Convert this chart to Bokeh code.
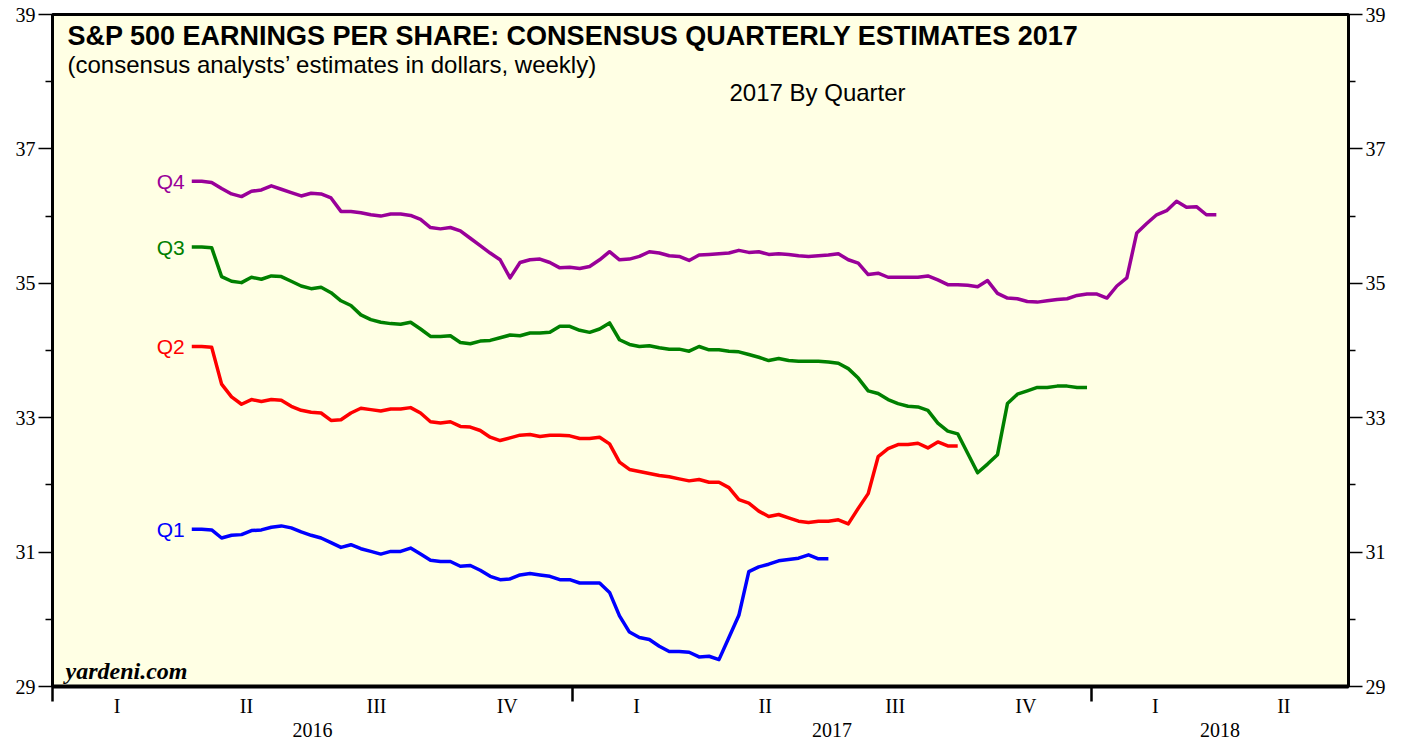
import pandas as pd
from bokeh.plotting import figure
from bokeh.models import Range1d, LinearAxis, FixedTicker, Label
from bokeh.core.properties import value
from bokeh.embed import file_html
from bokeh.resources import INLINE

# ---------------- data (weekly consensus estimates, $) ----------------
start_date = "2016-04-08"

q1_values = [31.34, 31.34, 31.33, 31.21, 31.25, 31.26, 31.32, 31.33, 31.37, 31.39,
             31.36, 31.30, 31.25, 31.21, 31.14, 31.07, 31.11, 31.05, 31.01, 30.97,
             31.01, 31.01, 31.06, 30.97, 30.88, 30.86, 30.86, 30.79, 30.80, 30.73,
             30.64, 30.59, 30.60, 30.66, 30.68, 30.66, 30.64, 30.59, 30.59, 30.54,
             30.54, 30.54, 30.40, 30.05, 29.81, 29.73, 29.70, 29.60, 29.52, 29.52,
             29.51, 29.44, 29.45, 29.40, 29.73, 30.06, 30.71, 30.78, 30.82, 30.87,
             30.89, 30.91, 30.96, 30.90, 30.90]

q2_values = [34.06, 34.06, 34.05, 33.50, 33.31, 33.20, 33.27, 33.24, 33.27, 33.26,
             33.17, 33.11, 33.08, 33.07, 32.96, 32.97, 33.07, 33.14, 33.12, 33.10,
             33.13, 33.13, 33.15, 33.07, 32.94, 32.92, 32.94, 32.87, 32.86, 32.81,
             32.71, 32.66, 32.70, 32.74, 32.75, 32.72, 32.74, 32.74, 32.73, 32.69,
             32.69, 32.71, 32.61, 32.34, 32.23, 32.20, 32.17, 32.14, 32.12, 32.09,
             32.06, 32.08, 32.04, 32.04, 31.96, 31.78, 31.73, 31.61, 31.53, 31.56,
             31.51, 31.46, 31.44, 31.46, 31.46, 31.48, 31.42, 31.65, 31.87, 32.42,
             32.54, 32.60, 32.60, 32.62, 32.55, 32.64, 32.58, 32.58]

q3_values = [35.54, 35.54, 35.53, 35.10, 35.03, 35.01, 35.09, 35.06, 35.11, 35.10,
             35.03, 34.96, 34.92, 34.94, 34.86, 34.74, 34.67, 34.53, 34.46, 34.42,
             34.40, 34.39, 34.42, 34.32, 34.21, 34.21, 34.22, 34.12, 34.10, 34.14,
             34.15, 34.19, 34.23, 34.22, 34.26, 34.26, 34.27, 34.36, 34.36, 34.30,
             34.27, 34.32, 34.41, 34.16, 34.09, 34.06, 34.07, 34.04, 34.02, 34.02,
             33.99, 34.06, 34.01, 34.01, 33.99, 33.98, 33.94, 33.90, 33.85, 33.88,
             33.85, 33.84, 33.84, 33.84, 33.83, 33.81, 33.73, 33.59, 33.40, 33.36,
             33.27, 33.21, 33.17, 33.16, 33.11, 32.92, 32.80, 32.76, 32.47, 32.18,
             32.31, 32.45, 33.21, 33.35, 33.40, 33.45, 33.45, 33.47, 33.47, 33.45,
             33.45]

q4_values = [36.52, 36.52, 36.50, 36.41, 36.33, 36.29, 36.37, 36.39, 36.45, 36.40,
             36.35, 36.30, 36.34, 36.33, 36.27, 36.07, 36.07, 36.05, 36.02, 36.00,
             36.03, 36.03, 36.01, 35.95, 35.83, 35.81, 35.83, 35.78, 35.67, 35.56,
             35.45, 35.35, 35.08, 35.31, 35.35, 35.36, 35.31, 35.23, 35.24, 35.22,
             35.25, 35.35, 35.47, 35.35, 35.36, 35.40, 35.47, 35.45, 35.41, 35.40,
             35.34, 35.42, 35.43, 35.44, 35.45, 35.49, 35.46, 35.47, 35.43, 35.44,
             35.43, 35.41, 35.40, 35.41, 35.42, 35.44, 35.35, 35.30, 35.13, 35.15,
             35.09, 35.09, 35.09, 35.09, 35.11, 35.05, 34.98, 34.98, 34.97, 34.95,
             35.04, 34.85, 34.78, 34.77, 34.73, 34.72, 34.74, 34.76, 34.77, 34.82,
             34.84, 34.84, 34.78, 34.96, 35.08, 35.75, 35.89, 36.02, 36.08, 36.22,
             36.13, 36.14, 36.02, 36.02]

series_names = ["Q1", "Q2", "Q3", "Q4"]
series_colors = ["#0000ff", "#ff0000", "#008000", "#990099"]

y_major_ticks = [29, 31, 33, 35, 37, 39]
y_minor_ticks = [30, 32, 34, 36, 38]
quarter_names = ["I", "II", "III", "IV"]
year_names = ["2016", "2017", "2018"]

title_text = "S&P 500 EARNINGS PER SHARE: CONSENSUS QUARTERLY ESTIMATES 2017"
subtitle_text = "(consensus analysts\u2019 estimates in dollars, weekly)"
legend_title = "2017 By Quarter"
source_text = "yardeni.com"

# ---------------- helpers ----------------
def ms(d):
    return pd.Timestamp(d).value / 1e6

x0, x1 = ms("2016-01-01"), ms("2018-07-01")
Y0, Y1 = 29, 39
FL, FR, FT, FB = 52, 1348, 14, 686   # frame edges in page pixels

def X(px):
    return x0 + (px - FL) / (FR - FL) * (x1 - x0)

def Y(py):
    return Y1 - (py - FT) / (FB - FT) * (Y1 - Y0)

# ---------------- figure ----------------
p = figure(width=1400, height=742, x_range=Range1d(x0, x1), y_range=Range1d(Y0, Y1),
           x_axis_type=None, y_axis_type=None, output_backend="svg",
           toolbar_location=None, min_border_left=52, min_border_right=52,
           min_border_top=14, min_border_bottom=56)
p.background_fill_color = "#ffffe4"
p.border_fill_color = "white"
p.outline_line_color = "black"
p.outline_line_width = 3

serif = "Liberation Serif"
sans = "Liberation Sans"

for side in ["left", "right"]:
    ya = LinearAxis(ticker=FixedTicker(ticks=y_major_ticks, minor_ticks=y_minor_ticks))
    ya.axis_line_width = 3
    ya.axis_line_color = "black"
    ya.major_tick_out = 14
    ya.major_tick_in = 0
    ya.minor_tick_out = 7
    ya.minor_tick_in = 0
    ya.major_tick_line_width = 1.5
    ya.minor_tick_line_width = 1.5
    ya.major_tick_line_color = "black"
    ya.minor_tick_line_color = "black"
    ya.major_label_standoff = 3
    ya.major_label_text_font = serif
    ya.major_label_text_font_size = "20px"
    ya.major_label_text_color = "black"
    p.add_layout(ya, side)

# quarter labels axis, with year-boundary ticks as minor ticks
q_ticks, q_labels = [], {}
for yr in [2016, 2017, 2018]:
    for qi in range(4):
        s = pd.Timestamp(year=yr, month=3 * qi + 1, day=1)
        e = s + pd.DateOffset(months=3)
        if ms(e) > x1:
            break
        mid = (ms(s) + ms(e)) / 2
        q_ticks.append(mid)
        q_labels[mid] = quarter_names[qi]
year_bounds = [ms("2016-01-01"), ms("2017-01-01"), ms("2018-01-01")]

xa = LinearAxis(ticker=FixedTicker(ticks=q_ticks, minor_ticks=year_bounds),
                major_label_overrides=q_labels)
xa.axis_line_width = 4
xa.axis_line_color = "black"
xa.major_tick_out = 0
xa.major_tick_in = 0
xa.major_tick_line_color = None
xa.minor_tick_out = 15
xa.minor_tick_in = 0
xa.minor_tick_line_width = 2.5
xa.minor_tick_line_color = "black"
xa.major_label_standoff = -7
xa.major_label_text_font = serif
xa.major_label_text_font_size = "20px"
xa.major_label_text_color = "black"
p.add_layout(xa, "below")

# year labels axis (centred on the visible part of each year)
year_pos = [(ms("2016-01-01") + ms("2017-01-01")) / 2,
            (ms("2017-01-01") + ms("2018-01-01")) / 2,
            (ms("2018-01-01") + x1) / 2]
ya2 = LinearAxis(ticker=FixedTicker(ticks=year_pos, minor_ticks=[]),
                 major_label_overrides=dict(zip(year_pos, year_names)))
ya2.axis_line_color = None
ya2.major_tick_out = 0
ya2.major_tick_in = 0
ya2.major_tick_line_color = None
ya2.minor_tick_line_color = None
ya2.major_label_standoff = 3
ya2.major_label_text_font = serif
ya2.major_label_text_font_size = "20px"
ya2.major_label_text_color = "black"
p.add_layout(ya2, "below")

# ---------------- series ----------------
all_values = [q1_values, q2_values, q3_values, q4_values]
first_x, first_y = [], []
for name, vals, col in zip(series_names, all_values, series_colors):
    dates = pd.date_range(start_date, periods=len(vals), freq="7D")
    xs = [d.value / 1e6 for d in dates]
    p.line(xs, vals, line_color=col, line_width=3.5, line_join="round")
    first_x.append(xs[0])
    first_y.append(vals[0])

p.text(x=first_x, y=first_y, text=series_names, text_color=series_colors,
       x_offset=-7, text_align="right", text_baseline="middle",
       text_font=value(sans), text_font_size="21px")

# ---------------- titles ----------------
p.add_layout(Label(x=X(67), y=Y(35), text=title_text, text_font=sans,
                   text_font_style="bold", text_font_size="27px",
                   text_baseline="middle", text_align="left", text_color="black"))
p.add_layout(Label(x=X(67), y=Y(64), text=subtitle_text, text_font=sans,
                   text_font_size="24px", text_baseline="middle",
                   text_align="left", text_color="black"))
p.add_layout(Label(x=X(729), y=Y(92), text=legend_title, text_font=sans,
                   text_font_size="24px", text_baseline="middle",
                   text_align="left", text_color="black"))
p.add_layout(Label(x=X(65), y=Y(670), text=source_text, text_font=serif,
                   text_font_style="bold italic", text_font_size="24px",
                   text_baseline="middle", text_align="left", text_color="black"))

open("out.html", "w").write(file_html(p, INLINE))
